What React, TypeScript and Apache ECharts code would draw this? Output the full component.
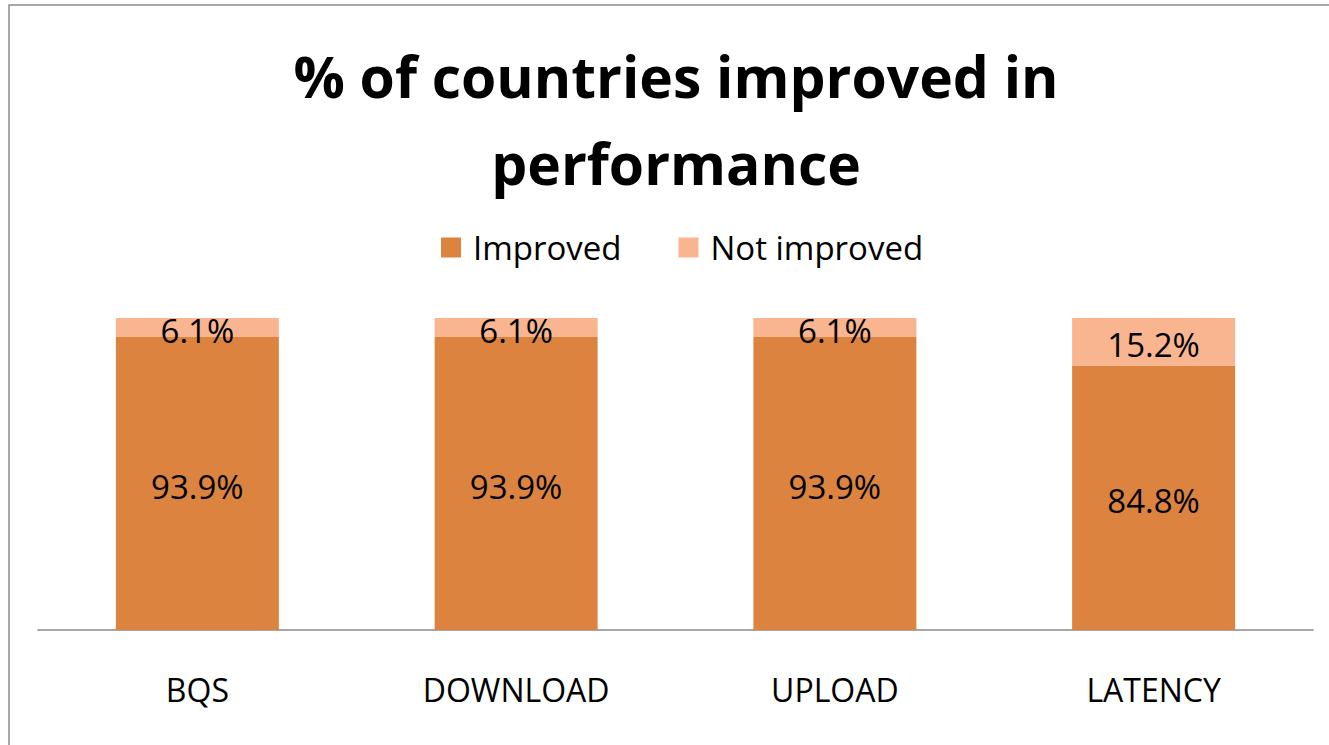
import React, { useEffect, useRef } from "react";
import * as echarts from "echarts";

const categories = ["BQS", "DOWNLOAD", "UPLOAD", "LATENCY"];
const improved = [93.9, 93.9, 93.9, 84.8];
const notImproved = [6.1, 6.1, 6.1, 15.2];
const seriesNames = ["Improved", "Not improved"];
const titleText = "% of countries improved in\nperformance";

const FONT = "'Open Sans', sans-serif";

export default function App() {
  const ref = useRef<HTMLDivElement>(null);
  useEffect(() => {
    if (!ref.current) return;
    const chart = echarts.init(ref.current, null, { renderer: "svg" });
    const labelStyle = {
      show: true,
      position: "inside" as const,
      color: "#000",
      fontSize: 33,
      fontFamily: FONT,
      offset: [0, 3],
      formatter: (p: any) => p.value.toFixed(1) + "%",
    };
    chart.setOption({
      animation: false,
      backgroundColor: "#fff",
      title: {
        text: titleText,
        left: 676,
        textAlign: "center",
        top: 32,
        padding: 0,
        textStyle: {
          fontFamily: FONT,
          fontWeight: "bold",
          fontSize: 57,
          lineHeight: 87,
          color: "#000",
        },
      },
      legend: {
        data: seriesNames,
        top: 231,
        left: 441,
        padding: 0,
        itemWidth: 20,
        itemHeight: 20,
        itemGap: 57,
        icon: "rect",
        textStyle: { fontFamily: FONT, fontSize: 33, color: "#000", padding: [0, 0, 0, 7] },
      },
      grid: { left: 38, right: 16, top: 318, bottom: 115 },
      xAxis: {
        type: "category",
        data: categories,
        axisLine: { show: true, lineStyle: { color: "#888", width: 1.5 } },
        axisTick: { show: false },
        axisLabel: { color: "#000", fontSize: 32, fontFamily: FONT, margin: 43 },
      },
      yAxis: {
        type: "value",
        min: 0,
        max: 100,
        show: false,
        splitLine: { show: false },
      },
      series: [
        {
          name: seriesNames[0],
          type: "bar",
          stack: "a",
          data: improved,
          barWidth: 163,
          itemStyle: { color: "#DC843F" },
          label: labelStyle,
        },
        {
          name: seriesNames[1],
          type: "bar",
          stack: "a",
          data: notImproved,
          barWidth: 163,
          itemStyle: { color: "#F8B58F" },
          label: labelStyle,
        },
      ],
      graphic: [
        {
          type: "rect",
          shape: { x: 9, y: 5, width: 1400, height: 800 },
          style: { fill: "none", stroke: "#8c8c8c", lineWidth: 1.5 },
          silent: true,
        },
      ],
    });
    return () => chart.dispose();
  }, []);
  return (
    <div
      ref={ref}
      style={{ position: "fixed", left: 0, top: 0, width: 1329, height: 745 }}
    />
  );
}
